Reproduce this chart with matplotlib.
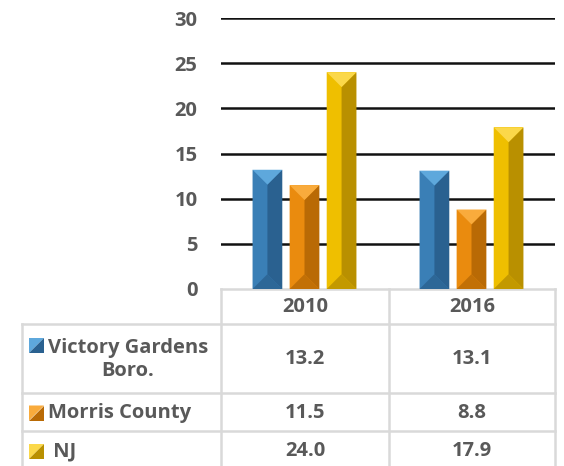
import numpy as np
import matplotlib.pyplot as plt
from matplotlib.patches import Polygon

plt.rcParams['font.family'] = ['Open Sans', 'DejaVu Sans']
plt.rcParams['font.weight'] = 'bold'

# -----------------------------
# Datos
# -----------------------------
categories = ["2010", "2016"]
series_names = ["Victory Gardens\nBoro.", "Morris County", " NJ"]
victory_gardens = [13.2, 13.1]
morris_county = [11.5, 8.8]
nj = [24.0, 17.9]
y_ticks = [0, 5, 10, 15, 20, 25, 30]

values = [victory_gardens, morris_county, nj]
# (base, luz, sombra) por serie
colors = [("#3a7fb6", "#5ea8dc", "#2a6190"),
          ("#ea8b0e", "#f9ab3c", "#b96a05"),
          ("#efbf00", "#fbd84a", "#b99000")]
text_color = "#595959"
grid_gray = "#d9d9d9"

W, H = 564, 466
fig = plt.figure(figsize=(W / 100, H / 100), dpi=100)

# ejes de fondo en pixeles para la tabla de datos
tab = fig.add_axes([0, 0, 1, 1])
tab.set_xlim(0, W)
tab.set_ylim(H, 0)
tab.axis("off")

# area del grafico
left, right, top, bottom = 221, 555, 18, 289
ax = fig.add_axes([left / W, (H - bottom) / H, (right - left) / W, (bottom - top) / H])
ax.patch.set_alpha(0)
ax.set_xlim(-0.5, len(categories) - 0.5)
ax.set_ylim(0, y_ticks[-1])
ax.set_yticks(y_ticks)
ax.set_xticks([])
for s in ax.spines.values():
    s.set_visible(False)
ax.tick_params(axis="y", length=0, pad=17, labelsize=14.5, labelcolor=text_color)
for v in y_ticks[1:]:
    ax.axhline(v, color="#111111", lw=1.8, zorder=1)

px_x = (right - left) / (len(categories))      # pixeles por unidad x
px_y = (bottom - top) / y_ticks[-1]            # pixeles por unidad y

x = np.arange(len(categories))
offsets = [-0.222, 0.0, 0.222]
bw = 0.178
for vals, off, (base, light, dark) in zip(values, offsets, colors):
    bars = ax.bar(x + off, vals, width=bw, color=base, zorder=3, linewidth=0)
    for b in bars:
        x0, w, h = b.get_x(), b.get_width(), b.get_height()
        x1, xc = x0 + w, x0 + w / 2
        by = (w / 2) * px_x / px_y
        by = min(by, h / 2)
        # cara izquierda, derecha, superior e inferior del bisel
        ax.add_patch(Polygon([(x0, 0), (x0, h), (xc, h - by), (xc, by)],
                             closed=True, color=base, lw=0, zorder=4))
        ax.add_patch(Polygon([(x1, 0), (x1, h), (xc, h - by), (xc, by)],
                             closed=True, color=dark, lw=0, zorder=4))
        ax.add_patch(Polygon([(x0, h), (x1, h), (xc, h - by)],
                             closed=True, color=light, lw=0, zorder=5))
        ax.add_patch(Polygon([(x0, 0), (x1, 0), (xc, by)],
                             closed=True, color=dark, lw=0, zorder=5, alpha=0.8))

# -----------------------------
# Tabla de datos
# -----------------------------
col_edges = [221, 389, 555]
row_edges = [289, 324, 393, 431, 470]
label_left = 22
lw_tab = 1.8

# encabezado
tab.plot([col_edges[0], col_edges[-1]], [row_edges[0]] * 2, color=grid_gray, lw=lw_tab)
for yy in row_edges[1:-1]:
    tab.plot([label_left, col_edges[-1]], [yy, yy], color=grid_gray, lw=lw_tab)
for xx in col_edges:
    tab.plot([xx, xx], [row_edges[0], row_edges[-1]], color=grid_gray, lw=lw_tab)
tab.plot([label_left, label_left], [row_edges[1], row_edges[-1]], color=grid_gray, lw=lw_tab)

fs = 14.5
for j, cat in enumerate(categories):
    cx = (col_edges[j] + col_edges[j + 1]) / 2
    tab.text(cx, (row_edges[0] + row_edges[1]) / 2 + 1, cat, ha="center", va="center",
             fontsize=fs, color=text_color)

for i, (name, vals, (base, light, dark)) in enumerate(zip(series_names, values, colors)):
    cy = (row_edges[i + 1] + row_edges[i + 2]) / 2 + 1
    # cuadro de leyenda
    ky = cy - 14 if i == 0 else cy
    k0, k1 = 29, 44
    tab.add_patch(Polygon([(k0, ky - 7.5), (k1, ky - 7.5), (k0, ky + 7.5)],
                          closed=True, color=light, lw=0))
    tab.add_patch(Polygon([(k1, ky - 7.5), (k1, ky + 7.5), (k0, ky + 7.5)],
                          closed=True, color=dark, lw=0))
    if i == 0:
        tab.text(128, cy, name, ha="center", va="center", multialignment="center",
                 fontsize=fs, color=text_color, linespacing=1.15)
    else:
        tab.text(48, cy, name, ha="left", va="center", fontsize=fs, color=text_color)
    for j, v in enumerate(vals):
        cx = (col_edges[j] + col_edges[j + 1]) / 2
        tab.text(cx, cy, f"{v:.1f}", ha="center", va="center", fontsize=fs, color=text_color)

fig.savefig("out.png", dpi=100)
